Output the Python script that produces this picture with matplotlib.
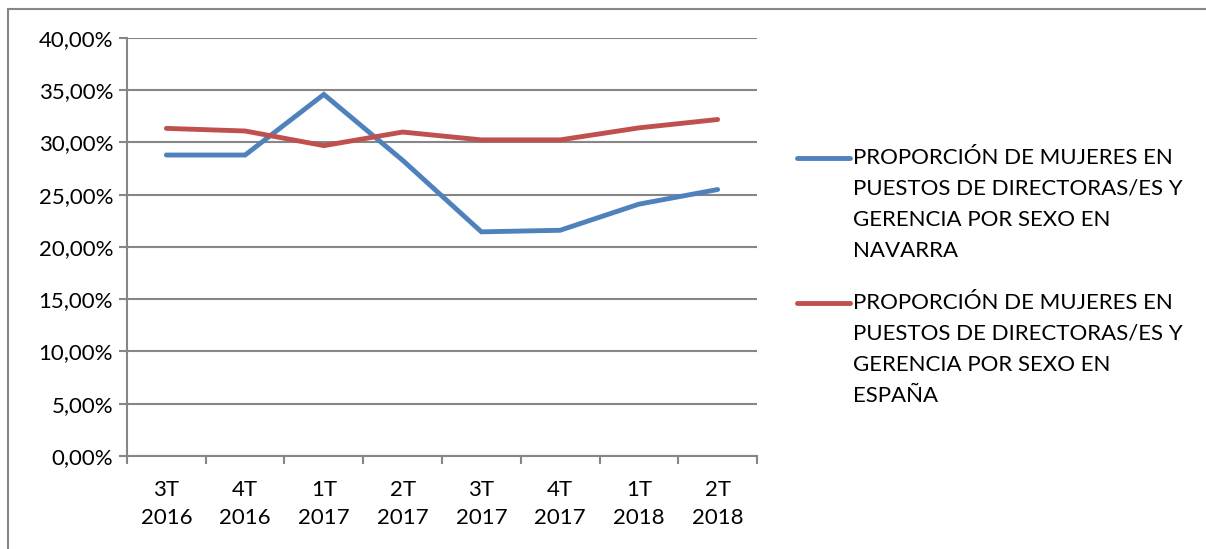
import matplotlib
matplotlib.use("Agg")
import matplotlib.pyplot as plt
from matplotlib.lines import Line2D
import numpy as np

plt.rcParams['font.family'] = ['Lato', 'DejaVu Sans']

# datos
periodos = ["3T\n2016", "4T\n2016", "1T\n2017", "2T\n2017", "3T\n2017", "4T\n2017", "1T\n2018", "2T\n2018"]
navarra = [28.8, 28.8, 34.6, 28.3, 21.45, 21.6, 24.1, 25.5]
espana = [31.35, 31.1, 29.7, 31.0, 30.25, 30.25, 31.4, 32.2]
etiquetas = [
    "PROPORCIÓN DE MUJERES EN\nPUESTOS DE DIRECTORAS/ES Y\nGERENCIA POR SEXO EN\nNAVARRA",
    "PROPORCIÓN DE MUJERES EN\nPUESTOS DE DIRECTORAS/ES Y\nGERENCIA POR SEXO EN\nESPAÑA",
]
colores = ["#4F81BD", "#C0504D"]
gris = "#868686"
fs = 16

fig = plt.figure(figsize=(12.06, 5.49), dpi=100)
ax = fig.add_axes([0.1053, 0.1694, 0.5224, 0.7614])

x = np.arange(len(periodos))
ax.plot(x, navarra, color=colores[0], lw=3.5, solid_capstyle='round', solid_joinstyle='miter', zorder=3)
ax.plot(x, espana, color=colores[1], lw=3.5, solid_capstyle='round', solid_joinstyle='miter', zorder=3)

ax.set_ylim(0, 40)
ax.set_xlim(-0.5, len(periodos) - 0.5)
ax.set_yticks(np.arange(0, 41, 5))
ax.set_yticklabels([f"{v:.2f}%".replace(".", ",") for v in np.arange(0, 41, 5)], fontsize=fs)
ax.yaxis.grid(True, color=gris, lw=1.5)
ax.set_axisbelow(True)

# ticks del eje x en los limites, etiquetas en el centro
ax.set_xticks(np.arange(-0.5, len(periodos), 1))
ax.set_xticklabels([])
ax.set_xticks(x, minor=True)
ax.set_xticklabels(periodos, minor=True, fontsize=fs, linespacing=1.55)
ax.tick_params(axis='x', which='minor', length=0, pad=17)
ax.tick_params(axis='x', which='major', length=6, color=gris, width=1.5)
ax.tick_params(axis='y', length=6, color=gris, width=1.5, pad=4)

for s in ['top', 'right']:
    ax.spines[s].set_visible(False)
for s in ['left', 'bottom']:
    ax.spines[s].set_color(gris)
    ax.spines[s].set_linewidth(1.5)

# leyenda
y0 = [1 - 158 / 549, 1 - 303 / 549]
for i in range(2):
    fig.add_artist(Line2D([797 / 1206, 850 / 1206], [y0[i], y0[i]], color=colores[i], lw=3.5,
                          solid_capstyle='round', transform=fig.transFigure))
    fig.text(853 / 1206, y0[i] + 10 / 549, etiquetas[i], fontsize=fs, va='top', ha='left', linespacing=1.68)

# marco
fig.add_artist(Line2D([8 / 1206, 1.0], [1 - 9 / 549, 1 - 9 / 549], color=gris, lw=1.5, transform=fig.transFigure))
fig.add_artist(Line2D([8 / 1206, 8 / 1206], [0, 1 - 9 / 549], color=gris, lw=1.5, transform=fig.transFigure))

fig.savefig("out.png", dpi=100)
